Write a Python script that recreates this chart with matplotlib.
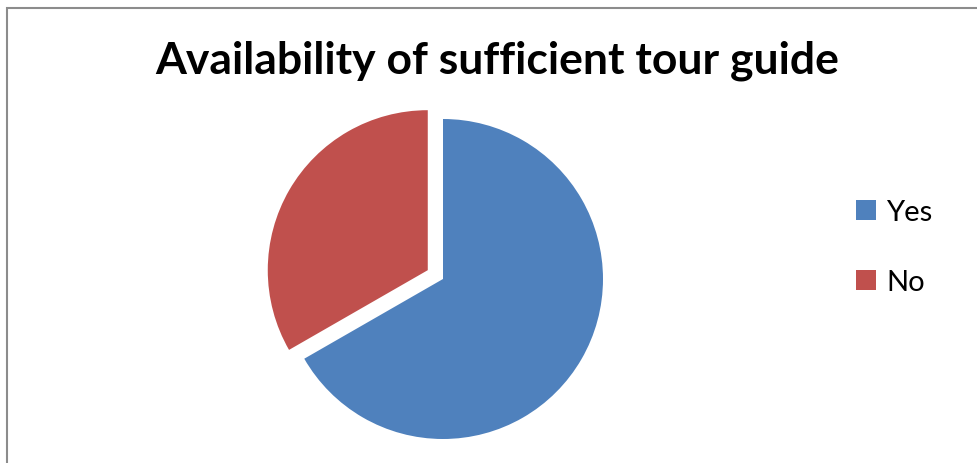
import matplotlib
matplotlib.use("Agg")
import matplotlib.pyplot as plt
from matplotlib.patches import Rectangle

labels = ["Yes", "No"]
values = [66.7, 33.3]
colors = ["#4F81BD", "#C0504D"]
explode_frac = [0, 0.11]
title = "Availability of sufficient tour guide"

W, H = 977, 464
R = 160
fig = plt.figure(figsize=(W / 100, H / 100), dpi=100)
fig.patch.set_facecolor("white")
ax = fig.add_axes([0, 0, 1, 1])

wedges, _ = ax.pie(values, colors=colors,
                   explode=[e * R for e in explode_frac], startangle=90,
                   counterclock=False, center=(443, H - 280), radius=R,
                   frame=True)
ax.set_xlim(0, W)
ax.set_ylim(0, H)
ax.set_aspect("equal")
ax.axis("off")

fig.text(497 / W, 1 - 61 / H, title, ha="center", va="center",
         fontsize=32, fontweight="bold", family=["Lato", "DejaVu Sans"])

leg = fig.legend(wedges, labels, loc="upper left",
                 bbox_to_anchor=(830 / W, 1 - 174 / H), frameon=False,
                 prop={"family": ["Lato", "DejaVu Sans"], "size": 21},
                 handlelength=0.68, handleheight=0.68, handletextpad=0.35,
                 labelspacing=1.5)

fig.add_artist(Rectangle((7 / W, -0.5), 2, 0.5 + 1 - 9 / H,
                         transform=fig.transFigure, fill=False,
                         edgecolor="#8c8c8c", linewidth=1.5))

fig.savefig("out.png", dpi=100, facecolor="white")
